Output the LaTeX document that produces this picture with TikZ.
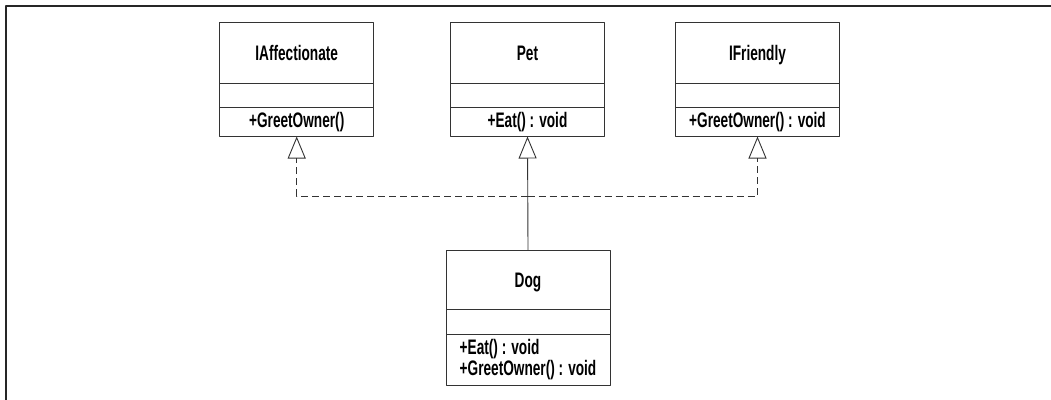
\documentclass[tikz,border=0pt]{standalone}
\usepackage{fontspec}
\setmainfont{Liberation Sans}[FakeStretch=0.65, UprightFont=*-Bold]
\usetikzlibrary{positioning,arrows.meta}
\tikzset{
  cls/.style={draw=black!80, line width=0.9pt, outer sep=0pt, inner sep=2pt,
    font=\fontsize{21}{17.7}\selectfont},
  hdr/.style={cls, text height=15pt, text depth=0pt},
  realize/.style={dash pattern=on 7pt off 4pt},
}
\begin{document}
\begin{tikzpicture}[x=1pt,y=-1pt,>={Triangle[open,length=22pt,width=18pt]},
    line join=round]
  \useasboundingbox (0,0) rectangle (1051,399);
  % frame
  \draw[line width=2pt, black!85] (6,401) -- (6,5.5) -- (1053,5.5);
  % interfaces and base class
  \node[hdr, minimum width=154pt, minimum height=61pt, anchor=north] (aff) at (296.7,22) {IAffectionate};
  \node[cls, minimum width=154pt, minimum height=24.5pt, below=0pt of aff] (affattr) {};
  \node[cls, minimum width=154pt, minimum height=29pt, below=0pt of affattr] (affops) {+GreetOwner()};
  \node[hdr, minimum width=154pt, minimum height=61pt, anchor=north] (pet) at (527.5,22) {Pet};
  \node[cls, minimum width=154pt, minimum height=24.5pt, below=0pt of pet] (petattr) {};
  \node[cls, minimum width=154pt, minimum height=29pt, below=0pt of petattr] (petops) {+Eat() : void};
  \node[hdr, minimum width=164pt, minimum height=61pt, anchor=north] (friend) at (757.5,22) {IFriendly};
  \node[cls, minimum width=164pt, minimum height=24.5pt, below=0pt of friend] (friendattr) {};
  \node[cls, minimum width=164pt, minimum height=29pt, below=0pt of friendattr] (friendops) {+GreetOwner() : void};
  % Dog
  \node[hdr, minimum width=164pt, minimum height=59pt, anchor=north] (dog) at (528,250) {Dog};
  \node[cls, minimum width=164pt, minimum height=25pt, below=0pt of dog] (dogattr) {};
  \node[cls, minimum width=164pt, minimum height=51pt, align=left, below=0pt of dogattr] (dogops) {+Eat() : void\\+GreetOwner() : void};
  % relations
  \coordinate (join) at (527.7,196);
  \draw[->, black!80, line width=0.9pt] (dog.north) -- (petops.south);
  \draw[->, realize, black!80, line width=0.9pt] (join) -| (affops.south);
  \draw[->, realize, black!80, line width=0.9pt] (join) -| (friendops.south);
\end{tikzpicture}
\end{document}
